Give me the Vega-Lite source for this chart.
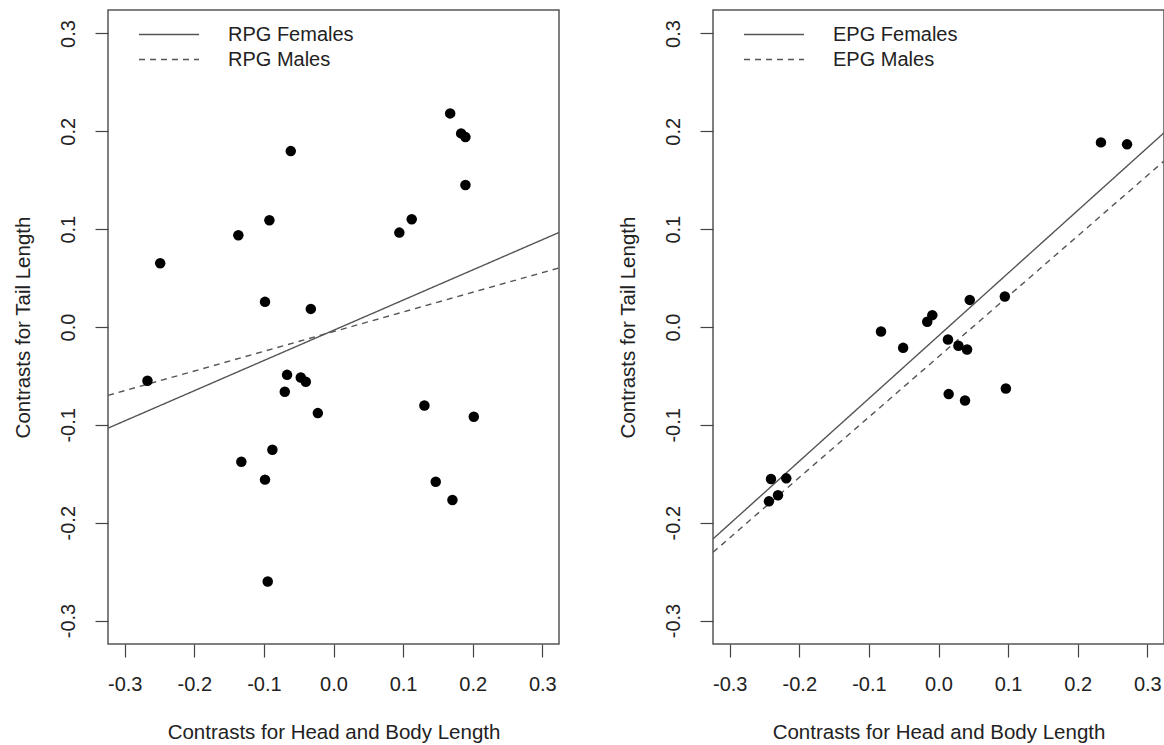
{
  "$schema": "https://vega.github.io/schema/vega-lite/v6.json",
  "background": "white",
  "padding": {"left": 12, "top": 9, "right": 1, "bottom": 1},
  "datasets": {
    "left_pts": [
      {"x": 0.1676, "y": 0.2183}, {"x": 0.1834, "y": 0.1979}, {"x": 0.1896, "y": 0.1941},
      {"x": -0.0614, "y": 0.1798}, {"x": 0.1896, "y": 0.1451}, {"x": -0.0921, "y": 0.1091},
      {"x": 0.1124, "y": 0.1101}, {"x": -0.1367, "y": 0.0938}, {"x": 0.0946, "y": 0.0965},
      {"x": -0.249, "y": 0.0652}, {"x": -0.0984, "y": 0.0257}, {"x": -0.0326, "y": 0.0185},
      {"x": -0.2673, "y": -0.055}, {"x": -0.0667, "y": -0.0489}, {"x": -0.047, "y": -0.0516},
      {"x": -0.0398, "y": -0.056}, {"x": -0.07, "y": -0.0662}, {"x": -0.0225, "y": -0.088},
      {"x": 0.1306, "y": -0.0802}, {"x": 0.2016, "y": -0.0917}, {"x": -0.0878, "y": -0.1254},
      {"x": -0.1324, "y": -0.1377}, {"x": -0.0984, "y": -0.156}, {"x": 0.1469, "y": -0.1581},
      {"x": 0.1709, "y": -0.1768}, {"x": -0.0945, "y": -0.2602}
    ],
    "right_pts": [
      {"x": 0.2334, "y": 0.1887}, {"x": 0.2709, "y": 0.1867}, {"x": 0.0449, "y": 0.0277},
      {"x": 0.0953, "y": 0.0311}, {"x": -0.0089, "y": 0.0121}, {"x": -0.0162, "y": 0.0053},
      {"x": -0.0826, "y": -0.0046}, {"x": -0.0508, "y": -0.0213}, {"x": 0.0136, "y": -0.0128},
      {"x": 0.0286, "y": -0.0192}, {"x": 0.041, "y": -0.023}, {"x": 0.0146, "y": -0.0686},
      {"x": 0.0381, "y": -0.0751}, {"x": 0.0968, "y": -0.0628}, {"x": -0.2407, "y": -0.1554},
      {"x": -0.2187, "y": -0.1547}, {"x": -0.2306, "y": -0.172}, {"x": -0.2436, "y": -0.1782}
    ],
    "left_lines": [
      {"series": "RPG Females", "x": -0.324, "y": -0.1034},
      {"series": "RPG Females", "x": 0.324, "y": 0.0966},
      {"series": "RPG Males", "x": -0.324, "y": -0.0699},
      {"series": "RPG Males", "x": 0.324, "y": 0.0604}
    ],
    "right_lines": [
      {"series": "EPG Females", "x": -0.324, "y": -0.2166},
      {"series": "EPG Females", "x": 0.324, "y": 0.1985},
      {"series": "EPG Males", "x": -0.324, "y": -0.2303},
      {"series": "EPG Males", "x": 0.324, "y": 0.1696}
    ]
  },
  "spacing": 154,
  "bounds": "flush",
  "resolve": {"scale": {"strokeDash": "independent", "x": "independent", "y": "independent"}, "legend": {"strokeDash": "independent"}},
  "hconcat": [
    {
      "width": 451,
      "height": 634,
      "layer": [
        {
          "data": {"name": "left_lines"},
          "mark": {"type": "line", "color": "#555", "strokeWidth": 1.4, "clip": true},
          "encoding": {
            "x": {"field": "x", "type": "quantitative", "scale": {"domain": [-0.324, 0.324], "nice": false, "zero": false},
              "axis": {"title": "Contrasts for Head and Body Length", "values": [-0.3, -0.2, -0.1, 0, 0.1, 0.2, 0.3], "format": ".1f", "labelExpr": "replace(datum.label, '\u2212', '-')", "labelPadding": 17, "titleY": 94, "titleBaseline": "alphabetic"}},
            "y": {"field": "y", "type": "quantitative", "scale": {"domain": [-0.324, 0.324], "nice": false, "zero": false},
              "axis": {"title": "Contrasts for Tail Length", "values": [-0.3, -0.2, -0.1, 0, 0.1, 0.2, 0.3], "format": ".1f", "labelExpr": "replace(datum.label, '\u2212', '-')", "labelAngle": -90, "labelAlign": "center", "labelBaseline": "alphabetic", "labelPadding": 21, "titleX": -79, "titleY": 317, "titleAngle": -90, "titleBaseline": "alphabetic"}},
            "strokeDash": {"field": "series", "type": "nominal", "scale": {"domain": ["RPG Females", "RPG Males"], "range": [[1, 0], [6, 5]]},
              "legend": {"orient": "none", "legendX": 30, "legendY": 12, "title": null}}
          }
        },
        {
          "data": {"name": "left_pts"},
          "mark": {"type": "circle", "color": "black", "opacity": 1, "size": 110},
          "encoding": {
            "x": {"field": "x", "type": "quantitative"},
            "y": {"field": "y", "type": "quantitative"}
          }
        }
      ]
    },
    {
      "width": 451,
      "height": 634,
      "layer": [
        {
          "data": {"name": "right_lines"},
          "mark": {"type": "line", "color": "#555", "strokeWidth": 1.4, "clip": true},
          "encoding": {
            "x": {"field": "x", "type": "quantitative", "scale": {"domain": [-0.324, 0.324], "nice": false, "zero": false},
              "axis": {"title": "Contrasts for Head and Body Length", "values": [-0.3, -0.2, -0.1, 0, 0.1, 0.2, 0.3], "format": ".1f", "labelExpr": "replace(datum.label, '\u2212', '-')", "labelPadding": 17, "titleY": 94, "titleBaseline": "alphabetic"}},
            "y": {"field": "y", "type": "quantitative", "scale": {"domain": [-0.324, 0.324], "nice": false, "zero": false},
              "axis": {"title": "Contrasts for Tail Length", "values": [-0.3, -0.2, -0.1, 0, 0.1, 0.2, 0.3], "format": ".1f", "labelExpr": "replace(datum.label, '\u2212', '-')", "labelAngle": -90, "labelAlign": "center", "labelBaseline": "alphabetic", "labelPadding": 21, "titleX": -79, "titleY": 317, "titleAngle": -90, "titleBaseline": "alphabetic"}},
            "strokeDash": {"field": "series", "type": "nominal", "scale": {"domain": ["EPG Females", "EPG Males"], "range": [[1, 0], [6, 5]]},
              "legend": {"orient": "none", "legendX": 30, "legendY": 12, "title": null}}
          }
        },
        {
          "data": {"name": "right_pts"},
          "mark": {"type": "circle", "color": "black", "opacity": 1, "size": 110},
          "encoding": {
            "x": {"field": "x", "type": "quantitative"},
            "y": {"field": "y", "type": "quantitative"}
          }
        }
      ]
    }
  ],
  "config": {
    "font": "Liberation Sans",
    "view": {"stroke": "#555", "strokeWidth": 1.5},
    "axis": {
      "grid": false, "domain": false, "tickSize": 13, "tickColor": "#444", "tickWidth": 1.2,
      "labelFont": "Liberation Sans", "labelFontSize": 20, "labelColor": "#222",
      "titleFont": "Liberation Sans", "titleFontSize": 20.5, "titleFontWeight": "normal", "titleColor": "#222",
      "labelFlush": false, "labelOverlap": false
    },
    "legend": {
      "symbolType": "stroke", "symbolSize": 3600, "symbolStrokeWidth": 1.4, "symbolStrokeColor": "#555",
      "labelFont": "Liberation Sans", "labelFontSize": 20, "labelColor": "#222", "labelOffset": 28,
      "clipHeight": 25, "padding": 0, "rowPadding": 0, "symbolOffset": 0
    }
  }
}
